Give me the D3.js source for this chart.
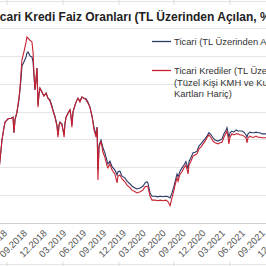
<!DOCTYPE html>
<html><head><meta charset="utf-8">
<script src="https://cdn.jsdelivr.net/npm/d3@7"></script>
<style>html,body{margin:0;padding:0;background:#fff;overflow:hidden}</style>
</head><body>
<script>
const dates = ["2018-05-04","2018-05-09","2018-05-18","2018-05-27","2018-06-01","2018-06-15","2018-06-29","2018-07-08","2018-07-12","2018-07-17","2018-07-26",
"2018-08-04","2018-08-09","2018-08-14","2018-08-18","2018-08-27","2018-09-06","2018-09-10","2018-09-15","2018-09-24","2018-10-03","2018-10-08","2018-10-12","2018-10-17","2018-10-22","2018-10-26","2018-10-31",
"2018-11-04","2018-11-09","2018-11-18","2018-11-27","2018-12-07","2018-12-16","2018-12-25",
"2019-01-03","2019-01-08","2019-01-17","2019-01-26","2019-01-31","2019-02-05","2019-02-09","2019-02-18","2019-02-23","2019-02-28","2019-03-04","2019-03-09","2019-03-18","2019-03-27",
"2019-04-01","2019-04-05","2019-04-10","2019-04-15","2019-04-24","2019-05-03","2019-05-12","2019-05-21","2019-05-31","2019-06-09","2019-06-18","2019-06-27",
"2019-07-07","2019-07-16","2019-07-25","2019-07-30","2019-08-03","2019-08-08","2019-08-17","2019-08-26","2019-09-04","2019-09-14","2019-09-18","2019-09-27",
"2019-10-07","2019-10-20","2019-10-30","2019-11-03","2019-11-12","2019-11-22","2019-12-05","2019-12-15","2019-12-29",
"2020-01-07","2020-01-21","2020-01-30","2020-02-13","2020-02-26","2020-03-07","2020-03-16","2020-03-20","2020-03-30","2020-04-08","2020-04-22","2020-05-05","2020-05-15","2020-05-28","2020-06-11","2020-06-21","2020-06-30",
"2020-07-09","2020-07-18","2020-07-23","2020-08-01","2020-08-06","2020-08-15","2020-08-24","2020-09-02","2020-09-11","2020-09-21","2020-09-25","2020-10-04","2020-10-14","2020-10-23","2020-11-01","2020-11-10","2020-11-19","2020-11-29","2020-12-08","2020-12-17","2020-12-26",
"2021-01-05","2021-01-14","2021-01-23","2021-02-06","2021-02-15","2021-02-24","2021-03-05","2021-03-15","2021-03-19","2021-03-24","2021-03-28","2021-04-02","2021-04-11","2021-04-20","2021-04-30","2021-05-09","2021-05-18","2021-05-27",
"2021-06-05","2021-06-15","2021-06-19","2021-06-24","2021-07-03","2021-07-12","2021-07-22","2021-07-31","2021-08-09","2021-08-18","2021-08-27","2021-09-06","2021-09-15","2021-09-24"];

const ticari = [14.5,16.3,19.9,22.1,23.1,23.7,23.8,24.0,21.2,23.5,24.9,
27.1,28.9,31.0,33.2,33.9,34.8,35.5,35.7,35.0,34.8,33.9,31.6,28.9,30.7,32.8,26.2,
28.0,29.2,28.5,27.8,28.3,27.4,27.1,
26.0,25.3,24.2,22.6,20.8,22.6,23.1,22.8,21.7,20.8,22.8,24.0,24.7,25.3,
24.2,22.6,24.9,25.6,26.7,27.4,26.9,27.6,27.4,27.3,26.7,25.8,
24.2,22.1,20.8,22.2,14.5,19.0,19.9,18.5,17.6,16.1,15.6,16.1,
15.1,14.5,13.6,14.2,14.3,13.4,13.1,12.5,12.0,
11.6,11.3,11.1,11.3,11.6,12.2,12.4,12.2,10.4,9.8,9.8,9.7,9.8,9.7,9.8,9.7,9.5,
10.4,11.6,12.4,13.8,13.3,14.3,14.9,15.4,16.0,14.7,16.0,16.7,17.6,17.7,17.9,18.8,19.2,19.7,20.1,20.6,21.2,
20.8,20.3,19.9,19.7,19.9,20.1,21.0,21.7,22.1,21.2,20.3,21.2,21.5,21.3,21.7,21.5,21.5,21.5,
21.3,20.8,20.4,21.0,21.3,21.2,21.2,21.3,21.2,21.2,21.0,21.0,21.0,21.0];

const ticariKrediler = [14.5,16.3,19.9,22.1,23.1,23.7,23.8,24.0,21.2,23.5,24.9,
27.4,29.2,32.1,34.3,35.7,37.5,38.4,38.2,37.8,37.5,35.7,32.1,28.9,31.0,32.8,25.8,
28.0,29.2,28.5,27.8,28.3,27.4,26.9,
25.8,25.1,24.0,22.4,20.4,22.6,23.1,22.6,21.7,20.4,22.8,24.0,24.7,25.3,
24.0,22.2,24.9,25.6,26.7,27.4,26.7,27.6,27.4,27.1,26.5,25.8,
24.0,21.7,20.4,22.2,12.7,18.6,19.7,17.7,16.8,15.2,14.9,15.6,
14.5,13.8,12.2,13.4,13.6,12.9,12.4,11.8,11.3,
10.9,10.6,10.4,10.6,10.9,11.5,11.6,11.5,9.8,9.1,9.1,9.0,9.1,9.0,9.1,8.8,8.1,
9.5,10.9,11.8,13.1,12.5,13.8,14.2,14.9,15.4,13.8,15.4,16.1,17.0,17.2,17.4,18.3,18.6,19.2,19.7,20.3,20.8,
20.3,19.7,19.4,19.2,19.4,19.5,20.4,21.2,21.5,20.4,19.2,20.4,21.0,20.8,21.0,21.0,20.8,20.8,
20.6,20.3,19.4,20.3,20.6,20.4,20.4,20.6,20.4,20.4,20.3,20.3,20.3,20.3];

const yTicks = [5,10,15,20,25,30,35,40];
const xTickLabels = ["06.2018","09.2018","12.2018","03.2019","06.2019","09.2019","12.2019","03.2020","06.2020","09.2020","12.2020","03.2021","06.2021","09.2021","12.2021"];
const titleText = "Ticari Kredi Faiz Oranları (TL Üzerinden Açılan, %)";
const legendLabels = [["Ticari (TL Üzerinden Açılan)"],["Ticari Krediler (TL Üzerinden Açılan)","(Tüzel Kişi KMH ve Kurumsal Kredi","Kartları Hariç)"]];
const colors = ["#2b3a67","#c8202f"];

const W=266,H=266;
const svg = d3.select("body").append("svg").attr("width",W).attr("height",H)
  .style("font-family","'Liberation Sans', Arial, sans-serif");

const parse = d3.timeParse("%Y-%m-%d");
const x = d3.scaleTime().domain([parse("2018-09-01"),parse("2021-09-01")]).range([25,263]);
const y = d3.scaleLinear().domain([5,40]).range([223,28]);

// frame remnants top & bottom
const sep=[7,63,119,174,230];
svg.append("line").attr("x1",0).attr("x2",W).attr("y1",1.5).attr("y2",1.5).attr("stroke","#e4e4e4");
svg.selectAll(".st").data(sep).join("line").attr("x1",d=>d).attr("x2",d=>d).attr("y1",0).attr("y2",5).attr("stroke","#dcdcdc");
svg.append("line").attr("x1",0).attr("x2",W).attr("y1",264.5).attr("y2",264.5).attr("stroke","#e4e4e4");
svg.selectAll(".sb").data(sep).join("line").attr("x1",d=>d).attr("x2",d=>d).attr("y1",262).attr("y2",266).attr("stroke","#dcdcdc");

// title
svg.append("text").attr("x",-10.6).attr("y",21).attr("font-size",12).attr("font-weight","bold").attr("fill","#222").text(titleText);

// gridlines
svg.append("g").selectAll("line").data(yTicks).join("line")
  .attr("x1",0).attr("x2",W).attr("y1",d=>Math.round(y(d))+0.5).attr("y2",d=>Math.round(y(d))+0.5)
  .attr("stroke",d=>d===5?"#cfcfcf":"#e6e6e6");

// x labels
const tickDates = xTickLabels.map(s=>d3.timeParse("%m.%Y")(s));
const fmt = d3.timeFormat("%m.%Y");
svg.append("g").selectAll("text").data(tickDates).join("text")
  .attr("transform",d=>`translate(${x(d)-2},229) rotate(-45)`)
  .attr("text-anchor","end").attr("dy","0.7em").attr("font-size",9.5).attr("fill","#555")
  .text(d=>fmt(d));

// lines
const line = d3.line().x((d,i)=>x(parse(dates[i]))).y(d=>y(d));
svg.append("path").datum(ticari).attr("d",line).attr("fill","none").attr("stroke",colors[0]).attr("stroke-width",1.1);
svg.append("path").datum(ticariKrediler).attr("d",line).attr("fill","none").attr("stroke",colors[1]).attr("stroke-width",1.1);

// legend
const lg = svg.append("g");
lg.append("line").attr("x1",152).attr("x2",171).attr("y1",41.5).attr("y2",41.5).attr("stroke",colors[0]).attr("stroke-width",1.3);
lg.append("text").attr("x",174).attr("y",45).attr("font-size",9.4).attr("fill","#333").text(legendLabels[0][0]);
lg.append("line").attr("x1",152).attr("x2",171).attr("y1",70.5).attr("y2",70.5).attr("stroke",colors[1]).attr("stroke-width",1.3);
legendLabels[1].forEach((t,i)=>{
  lg.append("text").attr("x",174).attr("y",74+i*11.7).attr("font-size",9.4).attr("fill","#333").text(t);
});
</script>
</body></html>
